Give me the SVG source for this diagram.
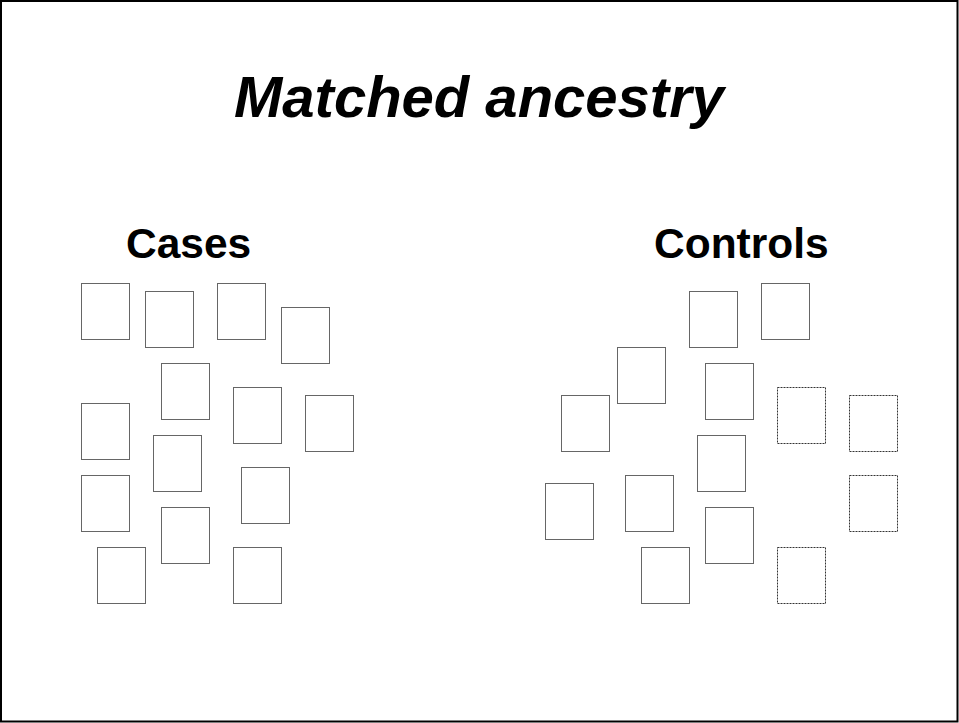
<svg xmlns="http://www.w3.org/2000/svg" width="959" height="723" viewBox="0 0 959 723">
<style>
.t{font-family:"Liberation Sans",Arial,sans-serif;font-weight:bold;fill:#000}
.b{fill:#fff;stroke:#666;stroke-width:1}
.d{fill:#fff;stroke:#333;stroke-width:1;stroke-dasharray:2,1}
</style>
<rect x="1" y="1" width="956.5" height="720.5" fill="#fff" stroke="#000" stroke-width="2"/>
<text class="t" x="479" y="117" font-size="58" font-style="italic" text-anchor="middle">Matched ancestry</text>
<text class="t" x="126" y="258" font-size="42.5">Cases</text>
<text class="t" x="654" y="258" font-size="42.5">Controls</text>
<g id="cases">
<rect class="b" x="81.5" y="283.5" width="48" height="56"/>
<rect class="b" x="145.5" y="291.5" width="48" height="56"/>
<rect class="b" x="217.5" y="283.5" width="48" height="56"/>
<rect class="b" x="281.5" y="307.5" width="48" height="56"/>
<rect class="b" x="161.5" y="363.5" width="48" height="56"/>
<rect class="b" x="233.5" y="387.5" width="48" height="56"/>
<rect class="b" x="305.5" y="395.5" width="48" height="56"/>
<rect class="b" x="81.5" y="403.5" width="48" height="56"/>
<rect class="b" x="153.5" y="435.5" width="48" height="56"/>
<rect class="b" x="241.5" y="467.5" width="48" height="56"/>
<rect class="b" x="81.5" y="475.5" width="48" height="56"/>
<rect class="b" x="161.5" y="507.5" width="48" height="56"/>
<rect class="b" x="97.5" y="547.5" width="48" height="56"/>
<rect class="b" x="233.5" y="547.5" width="48" height="56"/>
</g>
<g id="controls">
<rect class="b" x="689.5" y="291.5" width="48" height="56"/>
<rect class="b" x="761.5" y="283.5" width="48" height="56"/>
<rect class="b" x="617.5" y="347.5" width="48" height="56"/>
<rect class="b" x="561.5" y="395.5" width="48" height="56"/>
<rect class="b" x="705.5" y="363.5" width="48" height="56"/>
<rect class="d" x="777.5" y="387.5" width="48" height="56"/>
<rect class="d" x="849.5" y="395.5" width="48" height="56"/>
<rect class="b" x="697.5" y="435.5" width="48" height="56"/>
<rect class="b" x="545.5" y="483.5" width="48" height="56"/>
<rect class="b" x="625.5" y="475.5" width="48" height="56"/>
<rect class="b" x="705.5" y="507.5" width="48" height="56"/>
<rect class="b" x="641.5" y="547.5" width="48" height="56"/>
<rect class="d" x="777.5" y="547.5" width="48" height="56"/>
<rect class="d" x="849.5" y="475.5" width="48" height="56"/>
</g>
<g id="connectors"></g>
</svg>
